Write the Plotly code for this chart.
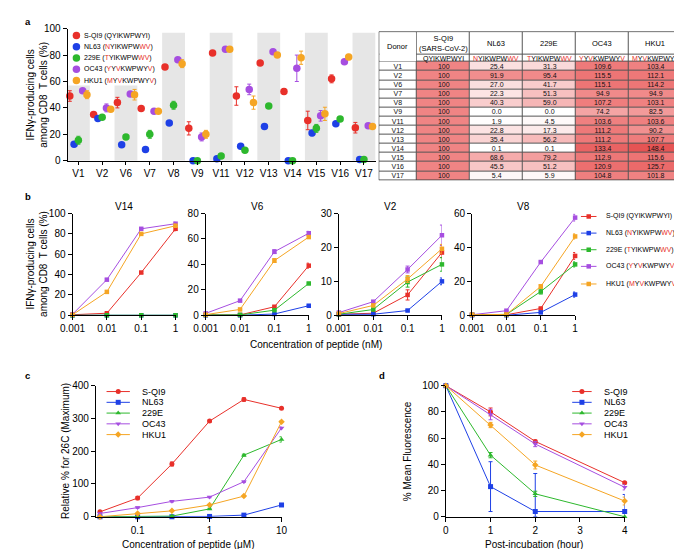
import numpy as np
import plotly.graph_objects as go

W, H = 682, 549
FONT = "Liberation Sans, Arial, sans-serif"

# ---------------- data ----------------
series = ["S-QI9", "NL63", "229E", "OC43", "HKU1"]
sequences = ["QYIKWPWYI", "NYIKWPWWV", "TYIKWPWWV", "YYVKWPWYV", "MYVKWPWYV"]
colors = ["#E8302A", "#1E40E6", "#2DB82D", "#A64EE0", "#F5A524"]

# panel a
donors_a = ["V1", "V2", "V6", "V7", "V8", "V9", "V11", "V12", "V13", "V14", "V15", "V16", "V17"]
a_sqi9 = [49, 35, 44, 39.5, 71, 24.5, 81.5, 49, 74, 52.5, 30.5, 62, 25]
a_nl63 = [12.5, 32, 12, 8.5, 28.5, 0, 1.5, 11, 26, 0, 21, 28, 1]
a_229e = [15.5, 33, 18, 20, 42, 0, 3.5, 8, 41.5, 0, 24.5, 31.5, 1]
a_oc43 = [53, 40, 50.5, 37.5, 76.5, 18, 84.5, 54, 82.5, 70, 34, 75, 26.5]
a_hku1 = [50, 39, 50, 37.5, 73.5, 20, 84.5, 44, 80, 78, 35.5, 78.5, 26]
a_err_sqi9 = [4, 1, 4, 1, 1, 5, 1, 7, 1, 2, 7, 3, 4]
a_err_nl63 = [1, 1, 1, 1, 1, 0.5, 1, 1, 1, 0.5, 2, 1, 0.5]
a_err_229e = [3, 1, 1, 3, 3, 0.5, 1, 1, 1, 0.5, 3, 1, 0.5]
a_err_oc43 = [1, 3, 1, 1, 1, 3, 1, 4, 1, 10, 4, 1, 1]
a_err_hku1 = [3, 1, 4, 1, 3, 3, 1, 5, 1, 5, 5, 2, 1]

# table
table_donors = donors_a
t_sqi9 = [100] * 13
t_nl63 = [25.4, 91.9, 27.0, 22.3, 40.3, 0.0, 1.9, 22.8, 35.4, 0.1, 68.6, 45.5, 5.4]
t_229e = [31.3, 95.4, 41.7, 51.3, 59.0, 0.0, 4.5, 17.3, 56.2, 0.1, 79.2, 51.2, 5.9]
t_oc43 = [109.6, 115.5, 115.1, 94.9, 107.2, 74.2, 103.6, 111.2, 111.2, 133.4, 112.9, 120.9, 104.8]
t_hku1 = [103.4, 112.1, 114.2, 94.9, 103.1, 82.5, 103.6, 90.2, 107.7, 148.4, 115.6, 125.7, 101.8]

# panel b
conc_b = [0.001, 0.01, 0.1, 1]
b_donors = ["V14", "V6", "V2", "V8"]
b_data = {
    "V14": [[0.5, 2, 42, 85], [0, 0, 0, 0], [0, 0, 0, 0], [1, 35, 85, 90], [0.5, 23, 80, 88]],
    "V6": [[0.3, 0.3, 6.7, 39], [0, 0, 1, 7.5], [0.3, 0.3, 4, 25], [1.5, 11.5, 50, 64.5], [0.5, 4.6, 43, 61.5]],
    "V2": [[0.3, 0.6, 6, 18.5], [0.3, 0.3, 1.4, 10], [0.3, 1.7, 9.8, 15], [0.8, 4, 13.5, 23.6], [0.5, 2.9, 10.7, 19.6]],
    "V8": [[0.3, 0.3, 4, 35], [0, 0, 1.7, 12.2], [0.3, 0.5, 14, 30], [0.3, 2.7, 31.4, 57.6], [0.3, 0.5, 17, 46.5]],
}
b_err = {
    "V14": [[0, 0.5, 1, 2], [0, 0, 0, 0], [0, 0, 0, 0], [0, 1, 1, 1.5], [0, 1, 1, 1.5]],
    "V6": [[0, 0, 0.5, 2], [0, 0, 0.2, 0.5], [0, 0, 0.3, 0.5], [0, 0.5, 1.5, 1.5], [0, 0.5, 1.5, 1]],
    "V2": [[0, 0.2, 1.5, 1.5], [0, 0, 0.2, 1], [0, 0.3, 1.5, 2], [0, 0.3, 1, 3], [0, 0.3, 1, 1.3]],
    "V8": [[0, 0, 0.5, 2], [0, 0, 0.3, 1.5], [0, 0, 1.5, 1.5], [0, 0.3, 0.5, 2], [0, 0, 1, 1.5]],
}
b_yrange = {"V14": 100, "V6": 80, "V2": 30, "V8": 60}
b_dtick = {"V14": 20, "V6": 20, "V2": 10, "V8": 20}

# panel c
conc_c = [0.03, 0.1, 0.3, 1, 3, 10]
c_vals = [
    [15, 57, 161, 292, 358, 331],
    [0, 0, 0, 1, 5, 36],
    [0, 0, 2, 24, 188, 236],
    [10, 28, 47, 60, 107, 271],
    [0, 10, 18, 36, 63, 290],
]
c_err = [
    [3, 5, 6, 3, 5, 3],
    [0, 0, 0, 1, 2, 2],
    [0, 0, 0, 2, 3, 8],
    [1, 2, 2, 2, 2, 3],
    [0, 1, 1, 2, 2, 3],
]

# panel d
hours = [0, 1, 2, 4]
d_vals = [
    [100, 80, 57.5, 26],
    [100, 23, 4, 4],
    [100, 47, 17.5, 0],
    [100, 78, 55.5, 22.5],
    [100, 70, 39.5, 12],
]
d_err_plus = [[0, 3, 1, 1], [0, 19, 29, 13], [0, 2, 2, 0], [0, 4, 2, 2], [0, 2, 3, 3]]
d_err_minus = [[0, 3, 1, 1], [0, 19, 4, 4], [0, 2, 2, 0], [0, 4, 2, 2], [0, 2, 3, 3]]

# ---------------- style ----------------
symbols_cd = ["circle", "square", "triangle-up", "triangle-down", "diamond"]
A_OFFSETS = [-0.36, -0.18, 0, 0.18, 0.36]
RED_TXT = "#E8302A"


def hl(seq, ref=sequences[0]):
    out = ""
    for s, r in zip(seq, ref):
        out += f"<span style='color:{RED_TXT}'>{s}</span>" if s != r else s
    return out


def dx(p0, p1):
    return [p0 / W, p1 / W]


def dy(top, bottom):
    return [1 - bottom / H, 1 - top / H]


def px(x):
    return x / W


def py(y):
    return 1 - y / H


fig = go.Figure()

# ---------------- panel a ----------------
a_vals = [a_sqi9, a_nl63, a_229e, a_oc43, a_hku1]
a_errs = [a_err_sqi9, a_err_nl63, a_err_229e, a_err_oc43, a_err_hku1]
for k in range(5):
    fig.add_trace(go.Scatter(
        x=[i + A_OFFSETS[k] for i in range(len(donors_a))], y=a_vals[k],
        mode="markers", marker=dict(color=colors[k], size=7.5, line=dict(width=0)),
        error_y=dict(type="data", array=a_errs[k], color=colors[k], thickness=1, width=2),
        xaxis="x", yaxis="y", showlegend=False, cliponaxis=False, hoverinfo="skip"))

shapes = []
for i in range(0, len(donors_a), 2):
    top = 57 if i in (0, 2) else 97
    shapes.append(dict(type="rect", xref="x", yref="y", x0=i - 0.48, x1=i + 0.48, y0=0, y1=top,
                       fillcolor="#E6E6E6", line=dict(width=0), layer="below"))

# ---------------- panel b ----------------
b_x0 = [53, 190, 327, 464]
for j, dn in enumerate(b_donors):
    ax = j + 2
    for k in range(5):
        fig.add_trace(go.Scatter(
            x=conc_b, y=b_data[dn][k], mode="lines+markers",
            line=dict(color=colors[k], width=1),
            marker=dict(color=colors[k], size=4.5, symbol="square"),
            error_y=dict(type="data", array=b_err[dn][k], color=colors[k], thickness=1, width=2),
            xaxis=f"x{ax}", yaxis=f"y{ax}", showlegend=False, cliponaxis=False, hoverinfo="skip"))

# ---------------- panel c ----------------
for k in range(5):
    fig.add_trace(go.Scatter(
        x=conc_c, y=c_vals[k], mode="lines+markers",
        line=dict(color=colors[k], width=1),
        marker=dict(color=colors[k], size=5, symbol=symbols_cd[k]),
        error_y=dict(type="data", array=c_err[k], color=colors[k], thickness=1, width=2),
        xaxis="x6", yaxis="y6", showlegend=False, cliponaxis=False, hoverinfo="skip"))

# ---------------- panel d ----------------
for k in range(5):
    fig.add_trace(go.Scatter(
        x=hours, y=d_vals[k], mode="lines+markers",
        line=dict(color=colors[k], width=1),
        marker=dict(color=colors[k], size=5, symbol=symbols_cd[k]),
        error_y=dict(type="data", array=d_err_plus[k], arrayminus=d_err_minus[k],
                     color=colors[k], thickness=1, width=2),
        xaxis="x7", yaxis="y7", showlegend=False, cliponaxis=False, hoverinfo="skip"))

# ---------------- table (heatmap) ----------------
col_widths = [39, 55, 54, 55, 54, 55]
row_heights = [24, 7] + [(152 - 31) / 13] * 13
x_edges = np.concatenate([[0], np.cumsum(col_widths)])
y_edges = np.concatenate([[0], np.cumsum(row_heights)])
z = [[0] * 6, [0] * 6]
txt = [[""] * 6, [""] * 6]
for i, d in enumerate(table_donors):
    z.append([0, t_sqi9[i], t_nl63[i], t_229e[i], t_oc43[i], t_hku1[i]])
    txt.append([d, f"{t_sqi9[i]:.0f}", f"{t_nl63[i]:.1f}", f"{t_229e[i]:.1f}",
                f"{t_oc43[i]:.1f}", f"{t_hku1[i]:.1f}"])
fig.add_trace(go.Heatmap(
    x=x_edges, y=y_edges, z=z, text=txt, texttemplate="%{text}",
    textfont=dict(size=7, color="#111111", family=FONT),
    colorscale=[[0, "#FFFFFF"], [0.667, "#F08484"], [1, "#E65252"]], zmin=0, zmax=150,
    showscale=False, xgap=1, ygap=1, hoverinfo="skip", xaxis="x8", yaxis="y8"))
shapes.append(dict(type="rect", xref="x8", yref="y8", x0=0, x1=312, y0=0, y1=152,
                   fillcolor="#555555", line=dict(width=0), layer="below"))
shapes.append(dict(type="rect", xref="x8", yref="y8", x0=0.6, x1=38.4, y0=0.6, y1=30.4,
                   fillcolor="white", line=dict(width=0), layer="above"))
shapes.append(dict(type="rect", xref="x8", yref="y8", x0=0, x1=312, y0=0, y1=152,
                   fillcolor="rgba(0,0,0,0)", line=dict(width=1, color="#222222"), layer="above"))

# ---------------- legends (custom, on pixel overlay axis) ----------------
leg_a_rows = [22, 33.5, 45, 56.5, 68]
leg_b_rows = [207, 224, 241, 258, 276]
leg_cd_rows = [386, 397, 408, 419, 430]
annotations = []
for k in range(5):
    fig.add_trace(go.Scatter(x=[57], y=[leg_a_rows[k]], mode="markers",
                             marker=dict(color=colors[k], size=7.5), xaxis="x9", yaxis="y9",
                             showlegend=False, hoverinfo="skip", cliponaxis=False))
    annotations.append(dict(text=f"{series[k]} ({hl(sequences[k])})", x=px(63), y=py(leg_a_rows[k]),
                            xref="paper", yref="paper", xanchor="left", yanchor="middle",
                            showarrow=False, font=dict(size=7)))
    # b
    fig.add_trace(go.Scatter(x=[576, 592], y=[leg_b_rows[k]] * 2, mode="lines",
                             line=dict(color=colors[k], width=1), xaxis="x9", yaxis="y9",
                             showlegend=False, hoverinfo="skip", cliponaxis=False))
    fig.add_trace(go.Scatter(x=[584], y=[leg_b_rows[k]], mode="markers",
                             marker=dict(color=colors[k], size=4.5, symbol="square"), xaxis="x9", yaxis="y9",
                             showlegend=False, hoverinfo="skip", cliponaxis=False))
    annotations.append(dict(text=f"{series[k]} ({hl(sequences[k])})", x=px(600), y=py(leg_b_rows[k]),
                            xref="paper", yref="paper", xanchor="left", yanchor="middle",
                            showarrow=False, font=dict(size=7)))
    # c and d
    for (l0, l1, tx) in [(88, 112, 122), (567, 587, 598)]:
        fig.add_trace(go.Scatter(x=[l0, l1], y=[leg_cd_rows[k]] * 2, mode="lines",
                                 line=dict(color=colors[k], width=1), xaxis="x9", yaxis="y9",
                                 showlegend=False, hoverinfo="skip", cliponaxis=False))
        fig.add_trace(go.Scatter(x=[(l0 + l1) / 2], y=[leg_cd_rows[k]], mode="markers",
                                 marker=dict(color=colors[k], size=5, symbol=symbols_cd[k]),
                                 xaxis="x9", yaxis="y9",
                                 showlegend=False, hoverinfo="skip", cliponaxis=False))
        annotations.append(dict(text=series[k], x=px(tx), y=py(leg_cd_rows[k]),
                                xref="paper", yref="paper", xanchor="left", yanchor="middle",
                                showarrow=False, font=dict(size=9)))

# ---------------- text annotations ----------------
def ann(text, x, y, size=10, angle=0, xanchor="center", yanchor="middle", bold=False):
    if bold:
        text = f"<b>{text}</b>"
    annotations.append(dict(text=text, x=px(x), y=py(y), xref="paper", yref="paper",
                            xanchor=xanchor, yanchor=yanchor, textangle=angle,
                            showarrow=False, font=dict(size=size)))


ann("a", 2, 8, 9.5, xanchor="left", bold=True)
ann("b", 2, 187, 9.5, xanchor="left", bold=True)
ann("c", 2, 370, 9.5, xanchor="left", bold=True)
ann("d", 366, 370, 9.5, xanchor="left", bold=True)
ann("IFNγ-producing cells<br>among CD8  T cells (%)", 17, 83, 10, angle=-90)
ann("IFNγ-producing cells<br>among CD8  T cells (%)", 17, 256, 10, angle=-90)
for j, dn in enumerate(b_donors):
    ann(dn, b_x0[j] + 53, 197, 10)
ann("Concentration of peptide (nM)", 303, 338, 10)
ann("Relative % for 26C (Maximum)", 45, 447, 10, angle=-90)
ann("Concentration of peptide (μM)", 172, 542, 10)
ann("% Mean Fluorescence", 397, 447, 10, angle=-90)
ann("Post-incubation (hour)", 528, 542, 10)

# table headers
col_centers = [(x_edges[i] + x_edges[i + 1]) / 2 for i in range(6)]
hdr = ["Donor", "S-QI9<br>(SARS-CoV-2)", "NL63", "229E", "OC43", "HKU1"]
for i in range(6):
    annotations.append(dict(text=hdr[i], x=col_centers[i], y=15.5 if i == 0 else 12,
                            xref="x8", yref="y8", showarrow=False, font=dict(size=7.5),
                            xanchor="center", yanchor="middle"))
    if i > 0:
        annotations.append(dict(text=hl(sequences[i - 1]), x=col_centers[i], y=27.5,
                                xref="x8", yref="y8", showarrow=False, font=dict(size=7),
                                xanchor="center", yanchor="middle"))

# ---------------- axes ----------------
axis_common = dict(showline=True, linecolor="black", linewidth=1, ticks="outside", ticklen=4,
                   tickwidth=1, tickcolor="black", showgrid=False, zeroline=False,
                   tickfont=dict(size=10, color="black"), fixedrange=True)

layout = dict(
    width=W, height=H, margin=dict(l=0, r=0, t=0, b=0),
    paper_bgcolor="white", plot_bgcolor="rgba(0,0,0,0)",
    font=dict(family=FONT, color="black"),
    showlegend=False, shapes=shapes, annotations=annotations,
)
layout["xaxis"] = dict(axis_common, domain=dx(48, 365), range=[-0.45, 12.5], anchor="y",
                       tickmode="array", tickvals=list(range(len(donors_a))), ticktext=donors_a, ticklen=3)
layout["yaxis"] = dict(axis_common, domain=dy(15, 150), range=[0, 100], dtick=20, anchor="x")
for j, dn in enumerate(b_donors):
    ax = j + 2
    layout[f"xaxis{ax}"] = dict(axis_common, domain=dx(b_x0[j], b_x0[j] + 106), type="log",
                                range=[-3, 0], tickmode="array", tickvals=conc_b,
                                ticktext=["0.001", "0.01", "0.1", "1"], anchor=f"y{ax}")
    layout[f"yaxis{ax}"] = dict(axis_common, domain=dy(204, 308), range=[0, b_yrange[dn]],
                                dtick=b_dtick[dn], anchor=f"x{ax}")
layout["xaxis6"] = dict(axis_common, domain=dx(77, 268), type="log", range=[-1.58, 1.0],
                        tickmode="array", tickvals=[0.1, 1, 10], ticktext=["0.1", "1", "10"], anchor="y6")
layout["yaxis6"] = dict(axis_common, domain=dy(380, 514), range=[0, 400], dtick=100, anchor="x6")
layout["xaxis7"] = dict(axis_common, domain=dx(437, 621), range=[0, 4], dtick=1, anchor="y7")
layout["yaxis7"] = dict(axis_common, domain=dy(380, 514), range=[0, 100], dtick=20, anchor="x7")
layout["xaxis8"] = dict(domain=dx(368, 680), range=[0, 312], visible=False, anchor="y8", fixedrange=True)
layout["yaxis8"] = dict(domain=dy(18, 170), range=[152, 0], visible=False, anchor="x8", fixedrange=True)
layout["xaxis9"] = dict(domain=[0, 1], range=[0, W], visible=False, anchor="y9", fixedrange=True)
layout["yaxis9"] = dict(domain=[0, 1], range=[H, 0], visible=False, anchor="x9", fixedrange=True)

fig.update_layout(**layout)
fig.write_html("out.html")
